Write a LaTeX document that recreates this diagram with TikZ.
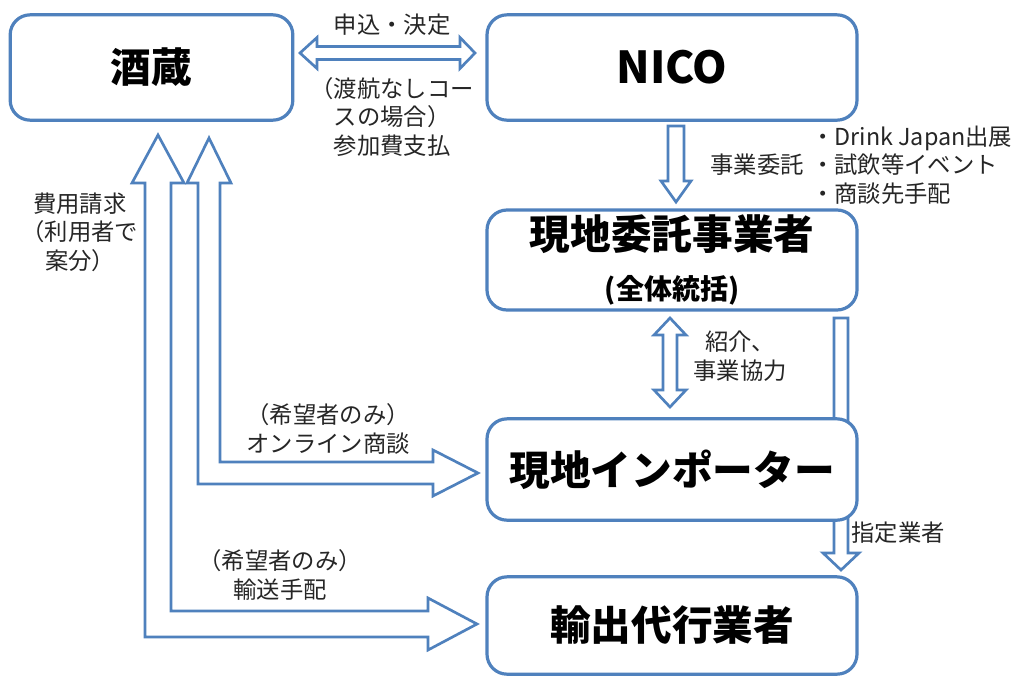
\documentclass[tikz,border=0pt]{standalone}
\usepackage{fontspec}
\setmainfont{Noto Sans CJK JP}
\definecolor{boxblue}{RGB}{79,129,189}
\definecolor{txtgray}{RGB}{38,38,38}
\begin{document}
\begin{tikzpicture}[x=0.75pt,y=-0.75pt,
  box/.style={draw=boxblue, line width=2.4pt, rounded corners=15pt, fill=white,
    align=center, inner sep=0pt, text=black,
    font=\bfseries\fontsize{30.5}{36}\selectfont},
  blk/.style={draw=boxblue, line width=2pt, fill=white, line join=miter},
  lbl/.style={font=\fontsize{17.5}{21.4}\selectfont, text=txtgray, align=center, inner sep=0pt}]
\useasboundingbox (0,0) rectangle (1020,675);
\fill[white] (0,0) rectangle (1020,675);

% arrow passing behind the importer box
\draw[blk] (834,318) -- (848,318) -- (848,553) -- (859,553) -- (841,570) -- (823,553) -- (834,553) -- cycle;

% boxes
\node[box, minimum width=212pt, minimum height=79pt] (sake) at (151.5,67.5) {酒蔵};
\node[box, minimum width=277.5pt, minimum height=79pt, font=\bfseries\fontsize{33}{38}\selectfont] (nico) at (672,67.5) {NICO};
\node[box, minimum width=277.5pt, minimum height=75pt] (itaku) at (672,260)
  {\raisebox{3pt}{現地委託事業者}\\[-2pt]{\fontsize{21}{25}\selectfont (全体統括)}};
\node[box, minimum width=277.5pt, minimum height=76pt] (imp) at (672,469.5) {現地インポーター};
\node[box, minimum width=277.5pt, minimum height=73pt] (exp) at (672,625.5) {輸出代行業者};

% sake <-> nico
\draw[blk] (300,53) -- (317,37.5) -- (317,46.5) -- (460,46.5) -- (460,37.5) -- (475,53)
  -- (460,68.5) -- (460,59.5) -- (317,59.5) -- (317,68.5) -- cycle;
% nico -> itaku
\draw[blk] (668,126) -- (684,126) -- (684,181) -- (691,181) -- (676,202) -- (661,181) -- (668,181) -- cycle;
% itaku <-> importer
\draw[blk] (670,318) -- (686,335) -- (677,335) -- (677,390) -- (686,390) -- (670,407)
  -- (654,390) -- (663,390) -- (663,335) -- (654,335) -- cycle;
% sake <-> export (outer L)
\draw[blk] (158,135) -- (184,183) -- (171,183) -- (171,611) -- (428,611) -- (428,598) -- (477,624)
  -- (428,650) -- (428,637) -- (145,637) -- (145,183) -- (132,183) -- cycle;
% sake <-> importer (inner L)
\draw[blk] (209,138) -- (231,183) -- (220,183) -- (220,462) -- (433,462) -- (433,450) -- (478,473)
  -- (433,496) -- (433,484) -- (198,484) -- (198,183) -- (187,183) -- cycle;

% labels
\node[lbl] (l1) at (392,25) {申込・決定};
\node[lbl] (l2) at (392,117) {（渡航なしコー\\スの場合）\\参加費支払};
\node[lbl] (l3) at (80,232) {費用請求\\（利用者で\\案分）};
\node[lbl] (l4) at (757,165) {事業委託};
\node[lbl, anchor=west, align=left] (l5) at (811,165) {・Drink Japan出展\\・試飲等イベント\\・商談先手配};
\node[lbl] (l6) at (740,356) {紹介、\\事業協力};
\node[lbl] (l7) at (898,533) {指定業者};
\node[lbl] (l8) at (328,429) {（希望者のみ）\\オンライン商談};
\node[lbl] (l9) at (280,575) {（希望者のみ）\\輸送手配};
\end{tikzpicture}
\end{document}
